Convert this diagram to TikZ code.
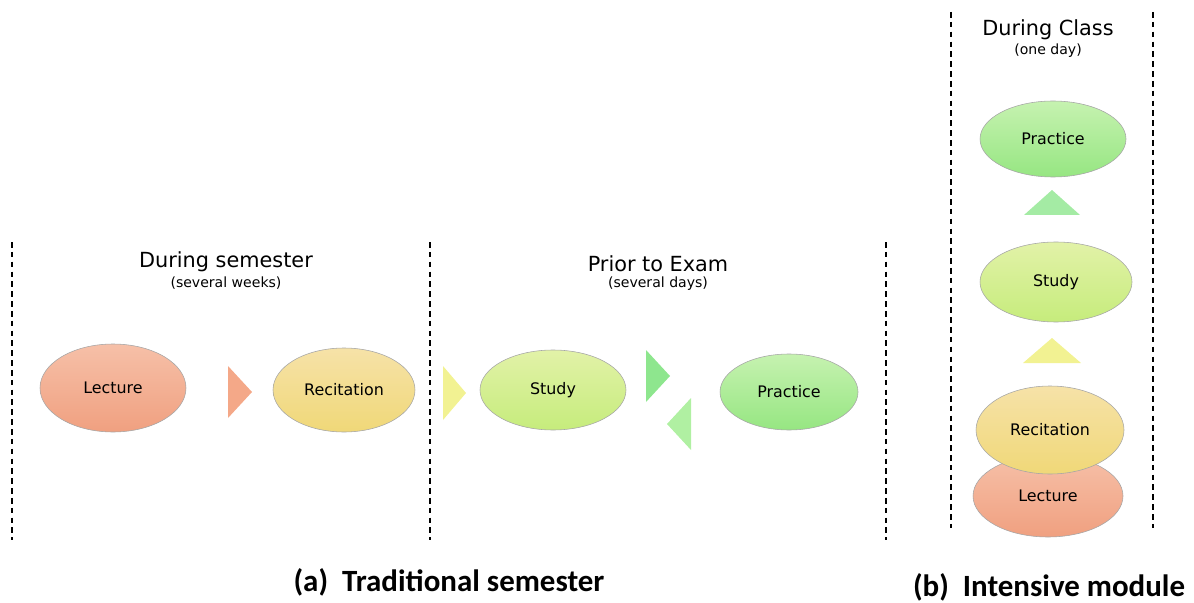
\documentclass[tikz,border=0pt]{standalone}
\usepackage{fontspec}
\setmainfont{DejaVu Sans}
\newfontfamily\capfont{Carlito}
\usetikzlibrary{shapes.geometric}
\definecolor{lecA}{HTML}{F6C0A8}
\definecolor{lecB}{HTML}{F0A080}
\definecolor{recA}{HTML}{F6E2A8}
\definecolor{recB}{HTML}{F0D878}
\definecolor{stuA}{HTML}{E2F2A8}
\definecolor{stuB}{HTML}{C6EC7C}
\definecolor{praA}{HTML}{C6F2B0}
\definecolor{praB}{HTML}{96E682}
\definecolor{triO}{HTML}{F4A888}
\definecolor{triY}{HTML}{F2F292}
\definecolor{triG}{HTML}{8EE68E}
\definecolor{triL}{HTML}{B0F0A2}
\tikzset{
  blob/.style={ellipse, draw=gray!70, line width=0.4pt, font=\fontsize{11.3}{13}\selectfont, inner sep=0pt},
  phase/.style={font=\fontsize{14.8}{17}\selectfont, align=center},
  sub/.style={font=\fontsize{10}{12}\selectfont},
  sep/.style={dashed, line width=0.8pt, dash pattern=on 4pt off 3pt},
  caption/.style={font=\capfont\bfseries\fontsize{22}{25}\selectfont}
}
\begin{document}
\begin{tikzpicture}[x=0.025cm,y=-0.025cm]
\useasboundingbox (0,0) rectangle (1194,603);
\foreach \x in {12,430,886}
{
    \draw[sep](\x,242)--(\x,540);
}
\foreach \x in {951,1153}
{
    \draw[sep](\x,12)--(\x,528);
}
\node[phase] (semester) at (226,262) {During semester};
\node[sub] at (226,283) {(several weeks)};
\node[phase] (exam) at (658,264) {Prior to Exam};
\node[sub] at (658,284) {(several days)};
\node[phase] (class) at (1048,30) {During Class};
\node[sub] at (1048,51) {(one day)};

% traditional semester
\node[blob, minimum width=146*0.025cm, minimum height=88*0.025cm, top color=lecA, bottom color=lecB] (lecA) at (113,388) {Lecture};
\node[blob, minimum width=142*0.025cm, minimum height=84*0.025cm, top color=recA, bottom color=recB] (recA) at (344,390) {Recitation};
\node[blob, minimum width=146*0.025cm, minimum height=80*0.025cm, top color=stuA, bottom color=stuB] (stuA) at (553,390) {Study};
\node[blob, minimum width=138*0.025cm, minimum height=76*0.025cm, top color=praA, bottom color=praB] (praA) at (789,392) {Practice};
\fill[triO](228,366)--(252,392)--(228,418)--cycle;
\fill[triY](443,366)--(466,393)--(443,420)--cycle;
\fill[triG](646,350)--(670,376)--(646,402)--cycle;
\fill[triL](691,398)--(667,424)--(691,450)--cycle;

% intensive module
\node[blob, minimum width=150*0.025cm, minimum height=82*0.025cm, top color=lecA, bottom color=lecB] (lecB) at (1048,496) {Lecture};
\node[blob, minimum width=148*0.025cm, minimum height=88*0.025cm, top color=recA, bottom color=recB] (recB) at (1050,430) {Recitation};
\node[blob, minimum width=152*0.025cm, minimum height=80*0.025cm, top color=stuA, bottom color=stuB] (stuB) at (1056,282) {Study};
\node[blob, minimum width=146*0.025cm, minimum height=76*0.025cm, top color=praA, bottom color=praB] (praB) at (1053,139) {Practice};
\fill[triY](1023,363)--(1052,338)--(1081,363)--cycle;
\fill[triG!80!white](1024,215)--(1052,190)--(1080,215)--cycle;

\node[caption] (capA) at (449,582) {(a)\ \ Traditional semester};
\node[caption] (capB) at (1049,587) {(b)\ \ Intensive module};
\end{tikzpicture}
\end{document}
